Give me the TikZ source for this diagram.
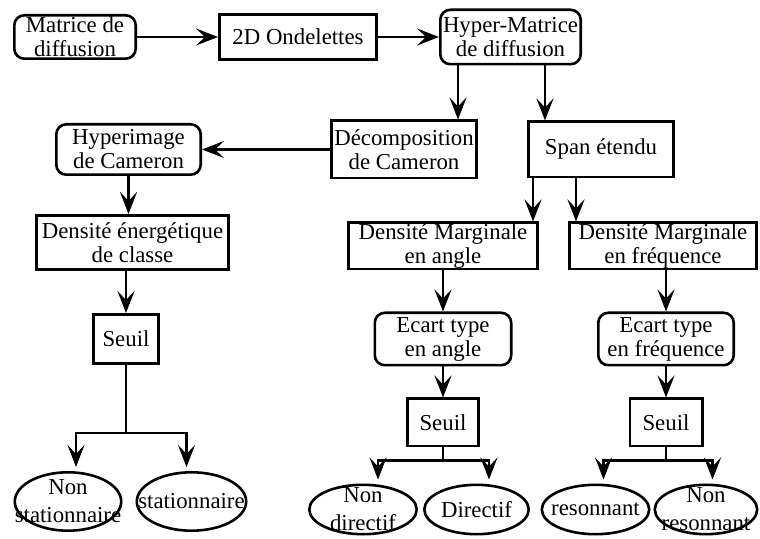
\documentclass[tikz,border=0pt]{standalone}
\usepackage{fontspec}
\setmainfont{Liberation Serif}
\usetikzlibrary{positioning,shapes.geometric,arrows.meta,calc}
\tikzset{
  blk/.style={rectangle,draw,line width=1.3pt,align=center,inner sep=0.3pt,
    font=\fontsize{11.4}{12}\selectfont},
  rblk/.style={blk,rounded corners=5pt},
  ell/.style={ellipse,draw,line width=1.3pt,inner sep=0pt,minimum height=24.7pt},
  lbl/.style={align=center,inner sep=0pt,font=\fontsize{11.4}{14}\selectfont},
  fl/.style={-{Stealth[length=11pt,width=8.5pt,inset=4.5pt]},line width=1.4pt},
  ln/.style={line width=1.4pt},
}
\begin{document}
\begin{tikzpicture}
  \useasboundingbox (0,0) rectangle (380pt,-269.5pt);
  % haut
  \node[rblk,minimum width=60.7pt,minimum height=21.7pt] (mat) at (37.5pt,-18.5pt) {Matrice de\\diffusion};
  \node[blk,minimum width=78.7pt,minimum height=22.7pt,right=40.5pt of mat] (ond) {2D Ondelettes};
  \node[rblk,minimum width=70.2pt,minimum height=27.2pt,right=30.5pt of ond] (hyp) {Hyper-Matrice\\de diffusion};
  \node[blk,minimum width=72.7pt,minimum height=28.7pt,below=27pt of hyp,xshift=-53.25pt] (dec) {D\'ecomposition\\de Cameron};
  \node[blk,minimum width=72.7pt,minimum height=27.7pt,below=27.5pt of hyp,xshift=45.25pt] (span) {Span \'etendu};
  % branche gauche
  \node[rblk,minimum width=72.2pt,minimum height=25.2pt,left=64pt of dec] (hci) {Hyperimage\\de Cameron};
  \node[blk,minimum width=96.2pt,minimum height=27.2pt,below=19pt of hci,xshift=2pt] (den) {Densit\'e \'energ\'etique\\de classe};
  \node[blk,minimum width=32.7pt,minimum height=24.7pt,below=21pt of den,xshift=-3.25pt] (s1) {Seuil};
  \node[ell,minimum width=53.2pt,minimum height=29.2pt,below=53pt of s1,xshift=-29pt,
    label={[lbl]center:Non\\stationnaire}] (ns) {};
  \node[ell,minimum width=54.7pt,minimum height=29.2pt,right=6.5pt of ns,
    label={[lbl]center:stationnaire}] (st) {};
  % branches droites
  \node[blk,minimum width=94.7pt,minimum height=23.2pt,below=21.5pt of span,xshift=-79pt] (dma) {Densit\'e Marginale\\en angle};
  \node[blk,minimum width=93.7pt,minimum height=23.2pt,right=14.5pt of dma] (dmf) {Densit\'e Marginale\\en fr\'equence};
  \node[rblk,minimum width=68.2pt,minimum height=26.2pt,below=20.5pt of dma] (eca) {Ecart type\\en angle};
  \node[rblk,minimum width=67.7pt,minimum height=26.2pt,below=20.5pt of dmf,xshift=1.5pt] (ecf) {Ecart type\\en fr\'equence};
  \node[blk,minimum width=35.7pt,minimum height=23.7pt,below=15.5pt of eca] (s2) {Seuil};
  \node[blk,minimum width=36.2pt,minimum height=23.7pt,below=15.5pt of ecf] (s3) {Seuil};
  \node[ell,minimum width=53.7pt,below=18pt of s2,xshift=-40pt,
    label={[lbl]center:Non\\directif}] (nd) {};
  \node[ell,minimum width=52.2pt,right=2.5pt of nd,
    label={[lbl]center:Directif}] (dir) {};
  \node[ell,minimum width=53.7pt,below=18pt of s3,xshift=-35.25pt,
    label={[lbl]center:resonnant}] (res) {};
  \node[ell,minimum width=51.2pt,right=1.5pt of res,
    label={[lbl]center:Non\\resonnant}] (nr) {};

  \draw[fl] (mat) -- (ond);
  \draw[fl] (ond) -- (hyp);
  \draw[fl] ([xshift=9.5pt]hyp.south west) -- ([xshift=9.5pt]hyp.south west |- dec.north);
  \draw[fl] ([xshift=53pt]hyp.south west) -- ([xshift=53pt]hyp.south west |- span.north);
  \draw[fl] (dec) -- (hci);
  \draw[fl] (hci) -- (hci |- den.north);
  \draw[fl] (den.south -| s1) -- (s1);
  \draw[ln] (s1.south) -- ++(0,-34pt) coordinate (j1);
  \draw[fl] (j1) -| ([xshift=4pt,yshift=2pt]ns.north);
  \draw[fl] (j1) -| ([xshift=-2.5pt,yshift=2pt]st.north);

  \draw[fl] ([xshift=3pt]span.south west) -- ([xshift=3pt]span.south west |- dma.north);
  \draw[fl] ([xshift=24.5pt]span.south west) -- ([xshift=24.5pt]span.south west |- dmf.north);
  \draw[fl] (dma) -- (eca);
  \draw[fl] (eca) -- (s2);
  \draw[fl] (ecf |- dmf.south) -- (ecf);
  \draw[fl] (ecf) -- (s3);
  \draw[ln] (s2.south) -- ++(0,-6.5pt) coordinate (j2);
  \draw[fl] (j2) -| ([xshift=7.5pt,yshift=2pt]nd.north);
  \draw[fl] (j2) -| ([xshift=6.25pt,yshift=2pt]dir.north);
  \draw[ln] (s3.south) -- ++(0,-6.5pt) coordinate (j3);
  \draw[fl] (j3) -| ([xshift=4pt,yshift=2pt]res.north);
  \draw[fl] (j3) -| ([xshift=3.25pt,yshift=2pt]nr.north);
\end{tikzpicture}
\end{document}
